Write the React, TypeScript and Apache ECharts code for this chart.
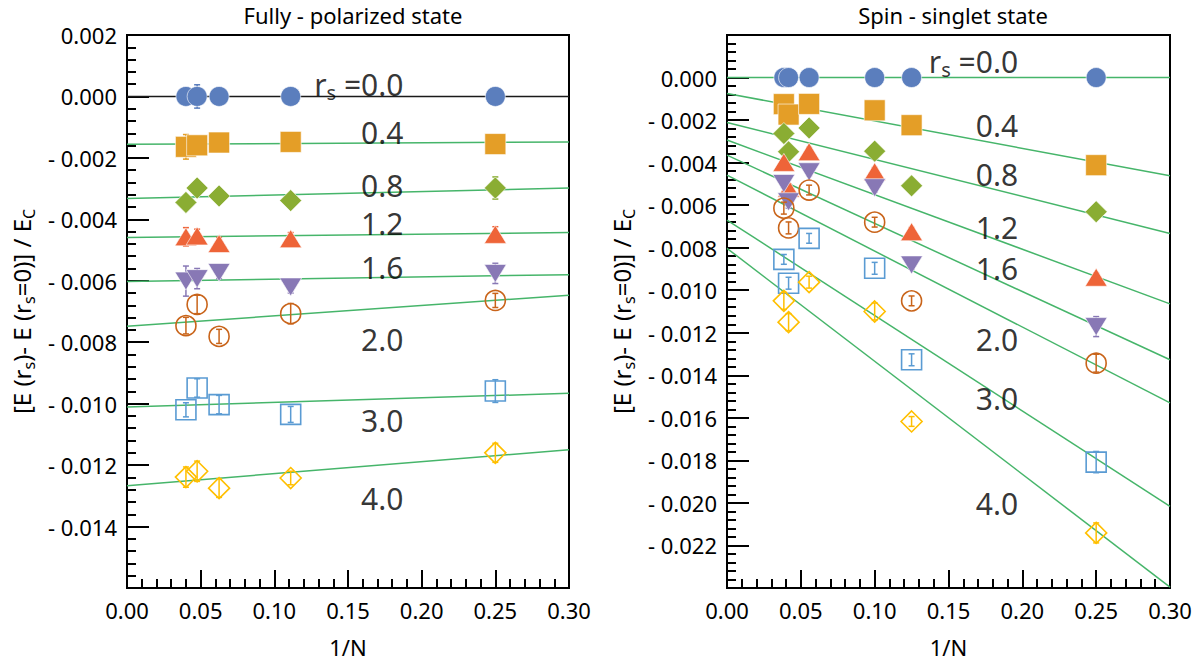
import React, { useEffect, useRef } from 'react';
import * as echarts from 'echarts';

const FONT = '"Noto Sans", "Liberation Sans", Arial, sans-serif';

// ---------- Fully-polarized state (left panel) ----------
const fpInvN = [0.04, 0.0476, 0.0625, 0.1111, 0.25];
const fpRs00 = [0, 0, 0, 0, 0];
const fpRs04 = [-0.00164, -0.00159, -0.0015, -0.00148, -0.00155];
const fpRs08 = [-0.00345, -0.00298, -0.00324, -0.00339, -0.00298];
const fpRs12 = [-0.00457, -0.00454, -0.00479, -0.00463, -0.00449];
const fpRs16 = [-0.00601, -0.00593, -0.00573, -0.0062, -0.00576];
const fpRs20 = [-0.00746, -0.00677, -0.00781, -0.00707, -0.00664];
const fpRs30 = [-0.0102, -0.00949, -0.01003, -0.01035, -0.00959];
const fpRs40 = [-0.01239, -0.0122, -0.01275, -0.01242, -0.0116];
const fpErr00 = [0, 0.00038, 0, 0, 0];
const fpErr04 = [0.0004, 0.0002, 0.0002, 0.0002, 0.0002];
const fpErr08 = [0.0002, 0.0002, 0.0002, 0.0002, 0.00036];
const fpErr12 = [0.0003, 0.00022, 0.0002, 0.0002, 0.00025];
const fpErr16 = [0.00049, 0.00033, 0.0002, 0.0002, 0.00033];
const fpErr20 = [0.00027, 0.0003, 0.00023, 0.00033, 0.00023];
const fpErr30 = [0.00023, 0.0003, 0.0003, 0.00026, 0.00037];
const fpErr40 = [0.00033, 0.00033, 0.0003, 0.00022, 0.00031];
const fpFitAt0 = [0, -0.00156, -0.00332, -0.00459, -0.00602, -0.00748, -0.01011, -0.01267];
const fpFitAt03 = [0, -0.00148, -0.00298, -0.00443, -0.0058, -0.00647, -0.00966, -0.0115];
const fpLabelX = 0.188;
const fpLabelY = [0.0004, -0.00116, -0.00289, -0.00414, -0.00558, -0.00791, -0.01056, -0.01309];

// ---------- Spin-singlet state (right panel) ----------
const ssInvN = [0.0385, 0.0417, 0.0556, 0.1, 0.125, 0.25];
const ssRs00 = [0, 0, 0, 0, 0, 0];
const ssRs04 = [-0.00125, -0.00174, -0.00124, -0.00154, -0.00224, -0.00412];
const ssRs08 = [-0.00263, -0.00349, -0.00237, -0.00346, -0.00509, -0.00631];
const ssRs12 = [-0.00399, -0.00521, -0.00349, -0.00443, -0.00725, -0.00939];
const ssRs16 = [-0.00498, -0.00584, -0.00443, -0.00518, -0.00881, -0.01171];
const ssRs20 = [-0.00614, -0.00707, -0.00529, -0.0068, -0.0105, -0.01343];
const ssRs30 = [-0.00855, -0.00967, -0.00756, -0.00897, -0.01327, -0.01808];
const ssRs40 = [-0.0105, -0.0115, -0.00962, -0.011, -0.01617, -0.02141];
const ssErr00 = [0, 0, 0, 0, 0, 0];
const ssErr04 = [0.0002, 0.0002, 0.0002, 0.0002, 0.0002, 0.0002];
const ssErr08 = [0.0002, 0.0002, 0.0002, 0.0002, 0.0002, 0.0002];
const ssErr12 = [0.0002, 0.0002, 0.0002, 0.0002, 0.0002, 0.0002];
const ssErr16 = [0.0002, 0.0003, 0.0002, 0.0002, 0.0002, 0.00047];
const ssErr20 = [0.00028, 0.00028, 0.00023, 0.00023, 0.00023, 0.00042];
const ssErr30 = [0.00023, 0.00028, 0.00023, 0.00028, 0.00028, 0.0005];
const ssErr40 = [0.0004, 0.0004, 0.00028, 0.0004, 0.00023, 0.00047];
const ssFitAt0 = [0, -0.00075, -0.00211, -0.00294, -0.00365, -0.00459, -0.0067, -0.00803];
const ssFitAt03 = [0, -0.00462, -0.00733, -0.01064, -0.01327, -0.0153, -0.02016, -0.02396];
const ssLabelX = 0.1975;
const ssLabelY = [0.00074, -0.00224, -0.00454, -0.00703, -0.009, -0.01233, -0.0151, -0.02004];

const rsLabels = ['0.0', '0.4', '0.8', '1.2', '1.6', '2.0', '3.0', '4.0'];
const xTicksRange = [0, 0.3];

// marker styles for rs = 0.0 ... 4.0
const STY = [
  { symbol: 'circle', size: 20, color: '#5b7ebd', filled: true, rot: 0 },
  { symbol: 'rect', size: 21, color: '#e49e27', filled: true, rot: 0 },
  { symbol: 'diamond', size: [22, 22], color: '#8aad33', filled: true, rot: 0 },
  { symbol: 'triangle', size: [22, 18], color: '#ee6438', filled: true, rot: 0 },
  { symbol: 'triangle', size: [22, 18], color: '#8878b5', filled: true, rot: 180 },
  { symbol: 'circle', size: 20, color: '#c9641a', filled: false, rot: 0 },
  { symbol: 'rect', size: 20, color: '#5a9bd3', filled: false, rot: 0 },
  { symbol: 'diamond', size: [21, 21], color: '#ffbf00', filled: false, rot: 0 },
];
const GREEN = '#46b56a';

function panelSeries(idx: number, xs: number[], ys: number[][], errs: number[][], fit0: number[], fit03: number[], labX: number, labY: number[], firstLineColor: string) {
  const out: any[] = [];
  // fit lines
  fit0.forEach((a, i) => {
    out.push({
      type: 'line', xAxisIndex: idx, yAxisIndex: idx, z: 1, silent: true,
      showSymbol: false, symbol: 'none',
      data: [[xTicksRange[0], a], [xTicksRange[1], fit03[i]]],
      lineStyle: { color: i === 0 ? firstLineColor : GREEN, width: 1.5 },
    });
  });
  ys.forEach((vals, i) => {
    const s = STY[i];
    const col = s.color;
    // error bars
    out.push({
      type: 'custom', xAxisIndex: idx, yAxisIndex: idx, z: s.filled ? 2 : 4, silent: true,
      encode: { x: 0, y: 1 },
      data: xs.map((x, j) => [x, vals[j], errs[i][j]]),
      renderItem: (_p: any, api: any) => {
        const x = api.value(0), y = api.value(1), e = api.value(2);
        if (!e) return { type: 'group', children: [] };
        const t = api.coord([x, y + e]);
        const b = api.coord([x, y - e]);
        const w = 3;
        const style = { stroke: col, lineWidth: 1.5, fill: 'none' };
        return {
          type: 'group', children: [
            { type: 'line', shape: { x1: t[0], y1: t[1], x2: b[0], y2: b[1] }, style },
            { type: 'line', shape: { x1: t[0] - w, y1: t[1], x2: t[0] + w, y2: t[1] }, style },
            { type: 'line', shape: { x1: b[0] - w, y1: b[1], x2: b[0] + w, y2: b[1] }, style },
          ],
        };
      },
    });
    // markers
    out.push({
      type: 'scatter', xAxisIndex: idx, yAxisIndex: idx, z: 3, silent: true,
      symbol: s.symbol, symbolSize: s.size, symbolRotate: s.rot,
      data: xs.map((x, j) => [x, vals[j]]),
      itemStyle: s.filled
        ? { color: col, opacity: 1, borderColor: '#ffffff', borderWidth: 0.6 }
        : { color: 'rgba(0,0,0,0)', opacity: 1, borderColor: col, borderWidth: 1.6 },
    });
  });
  // rs annotations
  out.push({
    type: 'scatter', xAxisIndex: idx, yAxisIndex: idx, z: 5, silent: true,
    symbolSize: 1, itemStyle: { color: 'rgba(0,0,0,0)' },
    data: labY.map((y, i) => ({ value: [labX, y], name: rsLabels[i] })),
    label: {
      show: true, position: 'left', distance: 0,
      fontFamily: FONT, fontSize: 30, color: '#000',
      formatter: (p: any) => (p.dataIndex === 0 ? '{r|r}{s|s}{r| =' + p.name + '}' : '{r|' + p.name + '}'),
      rich: {
        r: { fontFamily: FONT, fontSize: 30, color: '#000', lineHeight: 36 },
        s: { fontFamily: FONT, fontSize: 20, color: '#000', lineHeight: 20, verticalAlign: 'bottom' },
      },
    },
  });
  return out;
}

const yName = '{m|[E (r}{s|s}{m|)- E (r}{s|s}{m|=0)] / E}{s|C}';
const yNameStyle = {
  fontFamily: FONT, fontSize: 24, color: '#000',
  rich: {
    m: { fontFamily: FONT, fontSize: 24, color: '#000', lineHeight: 32 },
    s: { fontFamily: FONT, fontSize: 16, color: '#000', lineHeight: 20, verticalAlign: 'bottom' },
  },
};

function yFmt(hideAbove: number, hideBelow: number) {
  return (v: number) => {
    if (v > hideAbove + 1e-9 || v < hideBelow - 1e-9) return '';
    if (Math.abs(v) < 1e-9) return '0.000';
    return v < 0 ? '- ' + Math.abs(v).toFixed(3) : v.toFixed(3);
  };
}

const axisLineStyle = { show: true, onZero: false, lineStyle: { color: '#000', width: 2 } };

function xAxis(idx: number) {
  return {
    type: 'value', gridIndex: idx, min: 0, max: 0.3, interval: 0.05,
    name: '1/N', nameLocation: 'middle', nameGap: 48,
    nameTextStyle: { fontFamily: FONT, fontSize: 22, color: '#000' },
    axisLine: axisLineStyle,
    axisTick: { show: true, inside: true, length: 18, lineStyle: { color: '#000', width: 2 } },
    minorTick: { show: true, splitNumber: 5, length: 9, lineStyle: { color: '#000', width: 2 } },
    splitLine: { show: false },
    axisLabel: { fontFamily: FONT, fontSize: 22, color: '#000', margin: 11, formatter: (v: number) => v.toFixed(2) },
  };
}

function yAxis(idx: number, min: number, max: number, hideAbove: number, hideBelow: number) {
  return {
    type: 'value', gridIndex: idx, min, max, interval: 0.002,
    name: yName, nameLocation: 'middle', nameGap: 90, nameTextStyle: yNameStyle,
    axisLine: axisLineStyle,
    axisTick: { show: true, inside: true, length: 22, lineStyle: { color: '#000', width: 2 } },
    minorTick: { show: true, splitNumber: 5, length: 9, lineStyle: { color: '#000', width: 2 } },
    splitLine: { show: false },
    axisLabel: { fontFamily: FONT, fontSize: 22, color: '#000', margin: 10, formatter: yFmt(hideAbove, hideBelow) },
  };
}

export default function App() {
  const ref = useRef<HTMLDivElement>(null);
  useEffect(() => {
    document.body.style.margin = '0';
    if (!ref.current) return;
    const chart = echarts.init(ref.current, null, { renderer: 'svg' });
    const titleStyle = { fontFamily: FONT, fontSize: 22, fontWeight: 'normal', color: '#000' };
    const option: any = {
      animation: false,
      backgroundColor: '#ffffff',
      title: [
        { text: 'Fully - polarized state', left: 348, top: -1, textAlign: 'center', textStyle: titleStyle },
        { text: 'Spin - singlet state', left: 948, top: -1, textAlign: 'center', textStyle: titleStyle },
      ],
      grid: [
        { left: 127, right: 630, top: 35, bottom: 78, show: true, borderColor: '#000', borderWidth: 2, backgroundColor: 'rgba(0,0,0,0)' },
        { left: 727, right: 29, top: 35, bottom: 78, show: true, borderColor: '#000', borderWidth: 2, backgroundColor: 'rgba(0,0,0,0)' },
      ],
      xAxis: [xAxis(0), xAxis(1)],
      yAxis: [
        yAxis(0, -0.016, 0.002, 0.002, -0.014),
        yAxis(1, -0.024, 0.002, 0.0, -0.022),
      ],
      series: [
        ...panelSeries(0, fpInvN, [fpRs00, fpRs04, fpRs08, fpRs12, fpRs16, fpRs20, fpRs30, fpRs40],
          [fpErr00, fpErr04, fpErr08, fpErr12, fpErr16, fpErr20, fpErr30, fpErr40], fpFitAt0, fpFitAt03, fpLabelX, fpLabelY, '#1a1a1a'),
        ...panelSeries(1, ssInvN, [ssRs00, ssRs04, ssRs08, ssRs12, ssRs16, ssRs20, ssRs30, ssRs40],
          [ssErr00, ssErr04, ssErr08, ssErr12, ssErr16, ssErr20, ssErr30, ssErr40], ssFitAt0, ssFitAt03, ssLabelX, ssLabelY, GREEN),
      ],
    };
    chart.setOption(option);
    return () => chart.dispose();
  }, []);
  return <div ref={ref} style={{ width: 1199, height: 666 }} />;
}
